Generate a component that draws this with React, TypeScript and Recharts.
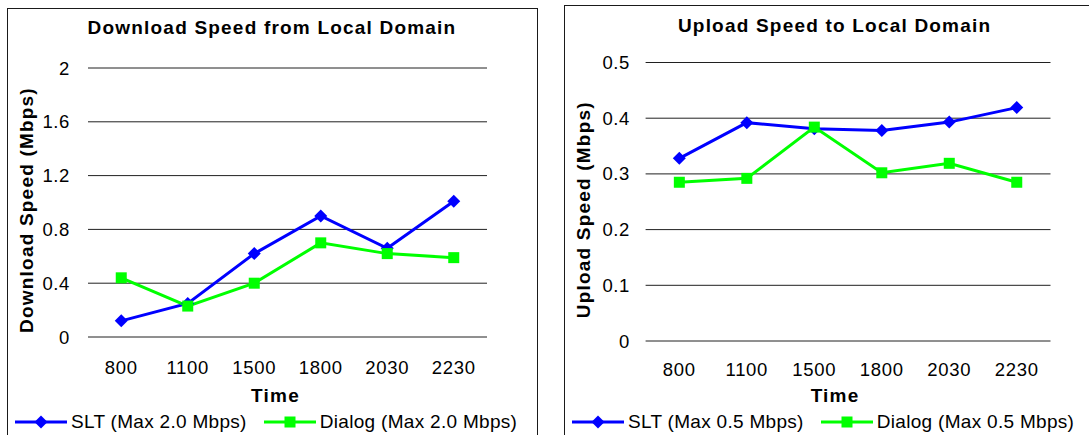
import React from 'react';
import { LineChart, Line, XAxis, YAxis, CartesianGrid, Legend, Label } from 'recharts';

// values
const times = ['800', '1100', '1500', '1800', '2030', '2230'];

const downloadSlt = [0.12, 0.25, 0.62, 0.9, 0.66, 1.01];
const downloadDialog = [0.44, 0.23, 0.4, 0.7, 0.62, 0.59];
const downloadTicks = [0, 0.4, 0.8, 1.2, 1.6, 2];

const uploadSlt = [0.328, 0.392, 0.381, 0.378, 0.393, 0.419];
const uploadDialog = [0.285, 0.292, 0.384, 0.302, 0.319, 0.285];
const uploadTicks = [0, 0.1, 0.2, 0.3, 0.4, 0.5];

const seriesOrder = ['slt', 'dialog'];

const FONT = '"Liberation Sans", Arial, Helvetica, sans-serif';
const BLUE = '#0000ff';
const GREEN = '#00ff00';
const GRID = '#202020';

const diamondPath = (cx: number, cy: number, r: number) =>
    `M${cx},${cy - r}L${cx + r},${cy}L${cx},${cy + r}L${cx - r},${cy}Z`;

const DiamondDot = (props: any) => {
    const { cx, cy, index } = props;
    if (cx == null || cy == null) return null;
    return <path key={`dm-${index}`} d={diamondPath(cx, cy, 6.5)} fill={BLUE} />;
};

const SquareDot = (props: any) => {
    const { cx, cy, index } = props;
    if (cx == null || cy == null) return null;
    return <rect key={`sq-${index}`} x={cx - 5.5} y={cy - 5.5} width={11} height={11} fill={GREEN} />;
};

const renderLegend = (props: any) => {
    const items = [...(props.payload || [])].sort(
        (a: any, b: any) => seriesOrder.indexOf(a.dataKey) - seriesOrder.indexOf(b.dataKey),
    );
    return (
        <div
            style={{
                display: 'flex',
                alignItems: 'center',
                fontFamily: FONT,
                fontSize: 19,
                letterSpacing: 0.3,
                color: '#000',
                whiteSpace: 'nowrap',
                lineHeight: '22px',
            }}>
            {items.map((entry: any) => (
                <div
                    key={entry.value}
                    style={{ display: 'flex', alignItems: 'center', marginRight: 17 }}>
                    <svg width={52} height={14}>
                        <line x1={0} y1={7} x2={52} y2={7} stroke={entry.color} strokeWidth={3} />
                        {entry.dataKey === 'slt' ? (
                            <path d={diamondPath(26, 7, 6.5)} fill={entry.color} />
                        ) : (
                            <rect x={20.5} y={1.5} width={11} height={11} fill={entry.color} />
                        )}
                    </svg>
                    <span style={{ marginLeft: 4 }}>{entry.value}</span>
                </div>
            ))}
        </div>
    );
};

interface PanelProps {
    left: number;
    top: number;
    width: number;
    title: string;
    titleTop: number;
    titleCenter: number;
    yTitle: string;
    yTitleX: number;
    yTitleDy: number;
    timeDx: number;
    timeDy: number;
    sltName: string;
    dialogName: string;
    slt: number[];
    dialog: number[];
    ticks: number[];
    margin: { top: number; right: number; left: number; bottom: number };
    yWidth: number;
    yTickMargin: number;
    xTickMargin: number;
    legendTop: number;
}

const ChartPanel: React.FC<PanelProps> = p => {
    const data = times.map((t, i) => ({ time: t, slt: p.slt[i], dialog: p.dialog[i] }));
    const chartWidth = p.width - 2;
    const chartHeight = 440;
    const boldText = { fontFamily: FONT, fontSize: 19, fontWeight: 700, letterSpacing: 1.2, fill: '#000' };

    return (
        <div
            style={{
                position: 'absolute',
                left: p.left,
                top: p.top,
                width: chartWidth,
                height: chartHeight,
                border: '1px solid #1a1a1a',
                background: '#fff',
            }}>
            <div
                style={{
                    position: 'absolute',
                    left: 0,
                    top: p.titleTop,
                    width: p.titleCenter * 2,
                    textAlign: 'center',
                    fontFamily: FONT,
                    fontSize: 19,
                    fontWeight: 700,
                    letterSpacing: 1.2,
                    lineHeight: '21px',
                    whiteSpace: 'nowrap',
                }}>
                {p.title}
            </div>
            <div style={{ position: 'absolute', left: 0, top: 0 }}>
                <LineChart width={chartWidth} height={chartHeight} data={data} margin={p.margin}>
                    <CartesianGrid vertical={false} stroke={GRID} strokeWidth={1} />
                    <XAxis
                        dataKey="time"
                        scale="band"
                        height={40}
                        axisLine={false}
                        tickLine={false}
                        tickMargin={p.xTickMargin}
                        tick={{ fontFamily: FONT, fontSize: 18.5, fill: '#000', letterSpacing: 0.7 }}
                        interval={0}>
                        <Label
                            content={(lp: any) => {
                                const vb = lp.viewBox || {};
                                return (
                                    <text
                                        x={vb.x + vb.width / 2 + p.timeDx}
                                        y={vb.y + p.timeDy}
                                        textAnchor="middle"
                                        style={boldText}>
                                        Time
                                    </text>
                                );
                            }}
                        />
                    </XAxis>
                    <YAxis
                        width={p.yWidth}
                        domain={[p.ticks[0], p.ticks[p.ticks.length - 1]]}
                        ticks={p.ticks}
                        interval={0}
                        axisLine={false}
                        tickLine={false}
                        tickMargin={p.yTickMargin}
                        tick={{ fontFamily: FONT, fontSize: 18.5, fill: '#000', letterSpacing: 0.6 }}>
                        <Label
                            content={(lp: any) => {
                                const vb = lp.viewBox || {};
                                const cx = vb.x + p.yTitleX;
                                const cy = vb.y + vb.height / 2 + p.yTitleDy;
                                return (
                                    <text
                                        x={cx}
                                        y={cy}
                                        transform={`rotate(-90, ${cx}, ${cy})`}
                                        textAnchor="middle"
                                        dominantBaseline="central"
                                        style={boldText}>
                                        {p.yTitle}
                                    </text>
                                );
                            }}
                        />
                    </YAxis>
                    <Legend
                        verticalAlign="middle"
                        align="center"
                        content={renderLegend}
                        wrapperStyle={{ top: p.legendTop, left: 7, width: chartWidth - 7 }}
                    />
                    <Line
                        dataKey="slt"
                        name={p.sltName}
                        stroke={BLUE}
                        strokeWidth={3}
                        dot={DiamondDot}
                        activeDot={false}
                        isAnimationActive={false}
                    />
                    <Line
                        dataKey="dialog"
                        name={p.dialogName}
                        stroke={GREEN}
                        strokeWidth={3}
                        dot={SquareDot}
                        activeDot={false}
                        isAnimationActive={false}
                    />
                </LineChart>
            </div>
        </div>
    );
};

export default function App() {
    return (
        <div
            style={{
                position: 'absolute',
                left: 0,
                top: 0,
                width: 1089,
                height: 435,
                overflow: 'hidden',
                background: '#fff',
            }}>
            <ChartPanel
                left={7}
                top={8}
                width={531}
                title="Download Speed from Local Domain"
                titleTop={8}
                titleCenter={264}
                yTitle="Download Speed (Mbps)"
                yTitleX={18}
                yTitleDy={7.5}
                timeDx={-12}
                timeDy={64.5}
                sltName="SLT (Max 2.0 Mbps)"
                dialogName="Dialog (Max 2.0 Mbps)"
                slt={downloadSlt}
                dialog={downloadDialog}
                ticks={downloadTicks}
                margin={{ top: 59, right: 50, left: 0, bottom: 72 }}
                yWidth={80}
                yTickMargin={12}
                xTickMargin={17.5}
                legendTop={401.5}
            />
            <ChartPanel
                left={564}
                top={5}
                width={544}
                title="Upload Speed to Local Domain"
                titleTop={9.4}
                titleCenter={269.6}
                yTitle="Upload Speed (Mbps)"
                yTitleX={18}
                yTitleDy={8}
                timeDx={-13}
                timeDy={60.5}
                sltName="SLT (Max 0.5 Mbps)"
                dialogName="Dialog (Max 0.5 Mbps)"
                slt={uploadSlt}
                dialog={uploadDialog}
                ticks={uploadTicks}
                margin={{ top: 56.5, right: 56.5, left: 0, bottom: 65 }}
                yWidth={80.6}
                yTickMargin={9.6}
                xTickMargin={16.3}
                legendTop={404.5}
            />
        </div>
    );
}
